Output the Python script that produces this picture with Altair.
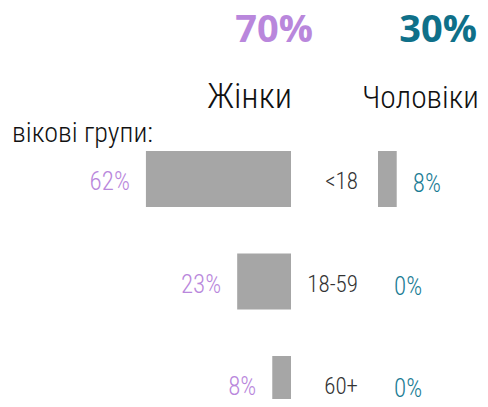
import altair as alt
import pandas as pd

groups = ["<18", "18-59", "60+"]
women = [62, 23, 8]
men = [8, 0, 0]
header_pct = ["70%", "30%"]
header_labels = ["Жінки", "Чоловіки"]
subtitle = "вікові групи:"

PURPLE = "#b987dc"
TEAL = "#0f7089"
TEAL_LIGHT = "#1a7c95"
BAR = "#a6a6a6"
COND = "Roboto Condensed"

df = pd.DataFrame({"group": groups, "women": women, "men": men})

yenc = alt.Y("group:N", sort=groups, axis=None,
             scale=alt.Scale(type="point", domain=groups, range=[171, 376], padding=0))
wx = alt.Scale(domain=[0, 100], range=[283, 49])
mx = alt.Scale(domain=[0, 100], range=[370, 604])

base = alt.Chart(df)

w_bars = base.mark_bar(color=BAR, size=56).encode(
    x=alt.X("women:Q", scale=wx, axis=None), y=yenc)
w_text = base.mark_text(align="right", baseline="middle", dx=-16, dy=3,
                        font=COND, fontWeight=300, fontSize=25, color=PURPLE).transform_calculate(
    lab="datum.women + '%'").encode(
    x=alt.X("women:Q", scale=wx, axis=None), y=yenc, text="lab:N")
m_bars = base.mark_bar(color=BAR, size=56).encode(
    x=alt.X("men:Q", scale=mx, axis=None), y=yenc)
m_text = base.mark_text(align="left", baseline="middle", dx=16, dy=5,
                        font=COND, fontWeight=300, fontSize=25, color=TEAL_LIGHT).transform_calculate(
    lab="datum.men + '%'").encode(
    x=alt.X("men:Q", scale=mx, axis=None), y=yenc, text="lab:N")
age_text = base.mark_text(align="right", baseline="middle", dy=3,
                          font=COND, fontWeight=300, fontSize=23, color="#333333").encode(
    x=alt.value(350), y=yenc, text="group:N")

def label(txt, x, y, align, size, color, font, weight=300):
    return alt.Chart(pd.DataFrame({"t": [txt]})).mark_text(
        align=align, baseline="alphabetic", fontSize=size, color=color,
        font=font, fontWeight=weight).encode(
        x=alt.value(x), y=alt.value(y), text="t:N")

titles = [
    label(header_pct[0], 305, 34, "right", 38, PURPLE, "Open Sans", "bold"),
    label(header_pct[1], 469, 34, "right", 38, TEAL, "Open Sans", "bold"),
    label(header_labels[0], 284, 100, "right", 35, "#111111", COND),
    label(header_labels[1], 354, 100, "left", 31.5, "#111111", COND),
    label(subtitle, 4, 134, "left", 28, "#111111", COND),
]

chart = alt.layer(w_bars, w_text, m_bars, m_text, age_text, *titles).resolve_scale(
    x="independent").properties(
    width=472, height=391, padding=0,
    autosize=alt.AutoSizeParams(type="fit", contains="padding")
).configure_view(stroke=None)

chart.save("out.html", embed_options={"renderer": "svg", "actions": False})
